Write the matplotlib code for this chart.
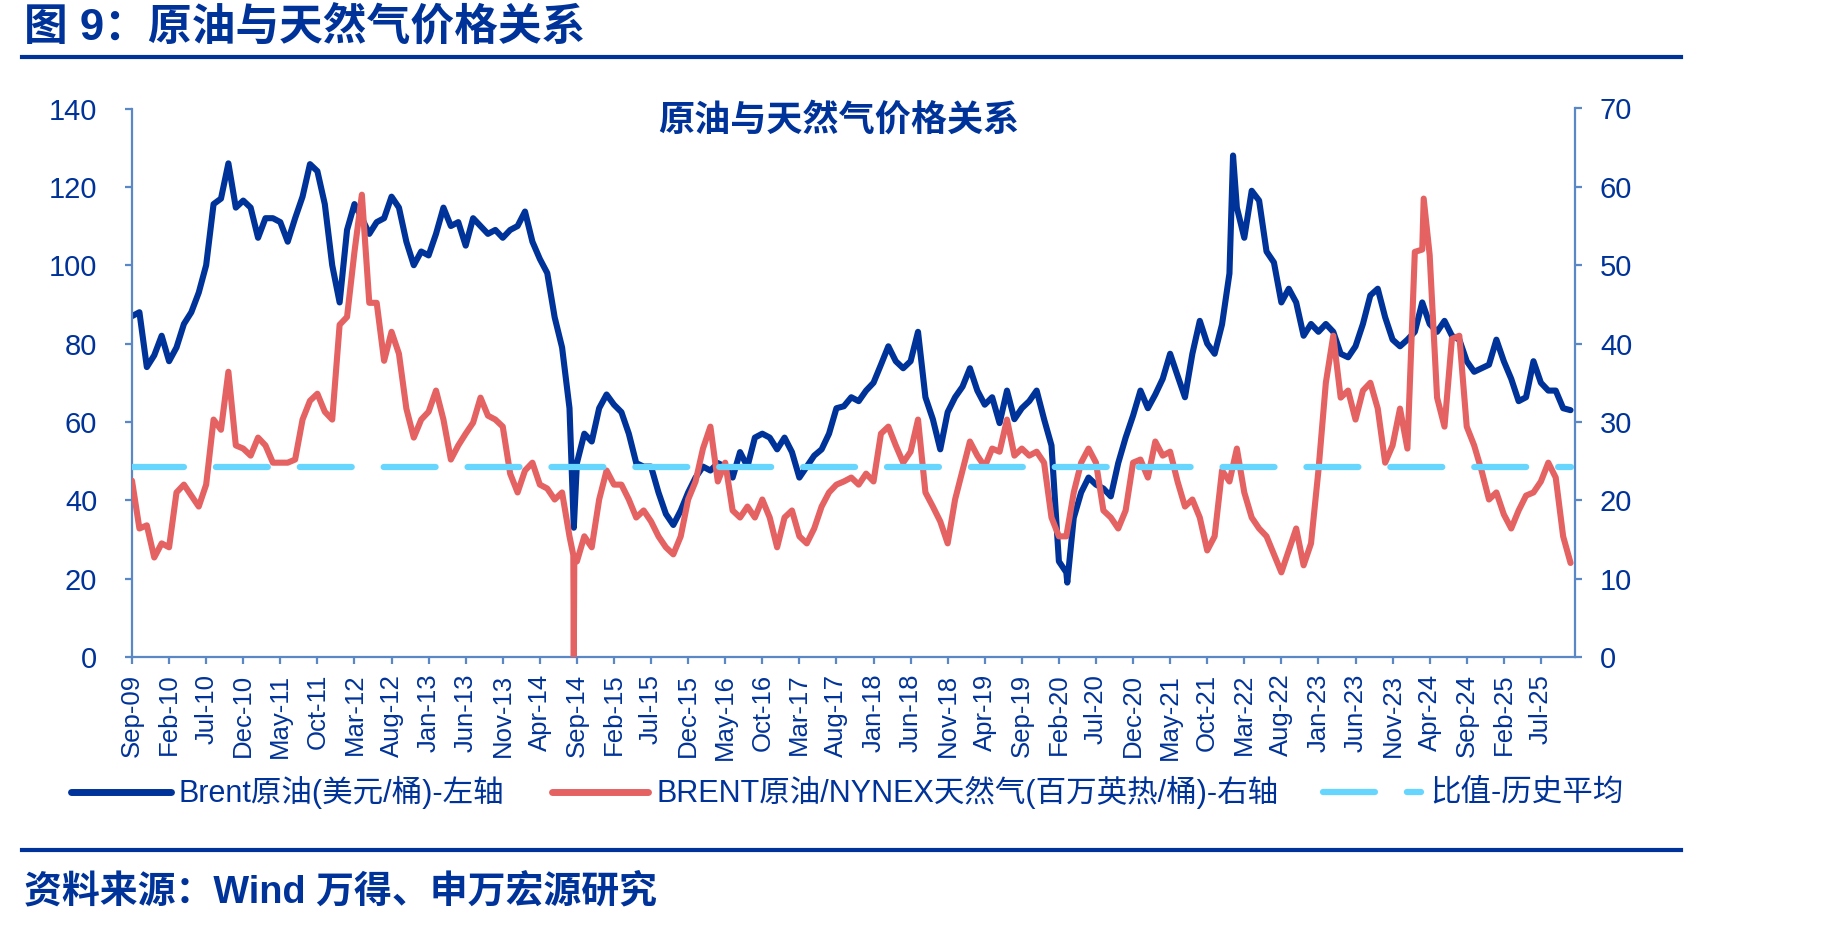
import numpy as np
import pandas as pd
import matplotlib
matplotlib.use("Agg")
import matplotlib.pyplot as plt
from matplotlib.lines import Line2D

plt.rcParams['font.family'] = ['Liberation Sans', 'Noto Sans CJK SC']
plt.rcParams['lines.scale_dashes'] = False

# ---------------- data (monthly, starting Sep 2009) ----------------
start = "2009-09"
brent = [87, 88, 74, 77, 82, 75.5, 79, 85, 88, 93,
         100, 115.6, 117, 126, 114.7, 116.5, 114.7, 107, 112, 112,
         111, 106, 112, 117.5, 125.8, 124, 115.6, 100, 90.5, 109,
         115.6, 112, 108, 111, 112, 117.5, 114.7, 106, 100, 103.5,
         102.5, 108, 114.7, 110, 111, 105, 112, 110, 108, 109,
         107, 109, 110, 113.7, 106, 101.6, 98, 86.7, 79, 63.5,
         49.5, 57, 55, 63.5, 67, 64.4, 62.5, 57, 49.5, 48.6,
         48.6, 42, 36.5, 33.7, 37.4, 42, 45.8, 48.6, 47.6, 49.5,
         48.6, 45.8, 52.3, 48.6, 56, 57, 56, 53, 56, 52.3,
         45.8, 48.6, 51.4, 53, 57, 63.5, 64, 66.3, 65.3, 68,
         70, 74.6, 79.3, 75.5, 73.7, 75.5, 83, 66.3, 60.7, 53,
         62.5, 66.3, 69, 73.7, 68, 64.4, 66.3, 59.7, 68, 60.7,
         63.5, 65.3, 68, 60.7, 54, 24.4, 21.6, 35.5, 42, 45.8,
         44, 43, 41, 49.5, 56, 61.6, 68, 63.5, 67, 71,
         77.4, 71.8, 66.3, 77.4, 85.8, 80, 77.4, 84.9, 97.9, 114.7,
         107, 119, 116.5, 103.5, 100.7, 90.5, 94, 90.5, 82, 85,
         83, 85, 83, 77.4, 76.5, 79.3, 85, 92.3, 94, 86.7,
         81, 79.3, 81, 83, 90.5, 85, 83, 85.8, 82, 81,
         75.5, 72.8, 73.7, 74.6, 81, 75.5, 71, 65.3, 66.3, 75.5,
         70, 68, 68, 63.5, 63]
ratio = [22.5, 16.4, 16.8, 12.7, 14.5, 14, 21, 22, 20.6, 19.2,
         22, 30.3, 29, 36.4, 27, 26.6, 25.7, 28, 27, 24.8,
         24.8, 24.8, 25.2, 30.3, 32.7, 33.6, 31.3, 30.3, 42.4, 43.4,
         51.7, 59, 45.2, 45.2, 37.8, 41.5, 38.7, 31.7, 28, 30.3,
         31.3, 34, 30.3, 25.2, 27, 28.5, 29.9, 33.1, 30.8, 30.3,
         29.4, 23.4, 21, 23.8, 24.8, 22, 21.5, 20.1, 21, 15.4,
         12.2, 15.4, 14, 20.1, 23.8, 22, 22, 20.1, 17.8, 18.7,
         17.3, 15.4, 14, 13.1, 15.4, 20.1, 22.4, 26.6, 29.4, 22.4,
         24.8, 18.7, 17.8, 19.2, 17.8, 20.1, 17.8, 14, 17.8, 18.7,
         15.4, 14.5, 16.4, 19.2, 21, 22, 22.4, 22.9, 22, 23.4,
         22.4, 28.5, 29.4, 27, 24.8, 26.2, 30.3, 21, 19.2, 17.3,
         14.5, 20.1, 23.8, 27.5, 25.7, 24.3, 26.6, 26.2, 30.3, 25.7,
         26.6, 25.7, 26.2, 24.8, 17.8, 15.4, 15.4, 21, 24.8, 26.6,
         24.8, 18.7, 17.8, 16.4, 18.7, 24.8, 25.2, 22.9, 27.5, 25.7,
         26.2, 22.4, 19.2, 20.1, 17.8, 13.6, 15.4, 23.8, 22.4, 26.6,
         21, 17.8, 16.4, 15.4, 13.1, 10.8, 13.6, 16.4, 11.7, 14.5,
         23.8, 35, 41, 33.1, 34, 30.3, 34, 35, 31.7, 24.8,
         27, 31.7, 26.6, 51.7, 52, 51.3, 33.1, 29.4, 40.6, 41,
         29.4, 27, 23.8, 20.1, 21, 18.2, 16.4, 18.7, 20.6, 21,
         22.4, 24.8, 22.9, 15.4, 12]
# short-lived spikes between monthly readings
brent_extra_dates = ["2014-08-19", "2020-03-05", "2022-01-16"]
brent_extra_vals = [33, 19, 128]
ratio_extra_dates = ["2014-08-17", "2014-08-19", "2014-08-21", "2024-03-07"]
ratio_extra_vals = [13, 0, 12.5, 58.5]
ratio_avg = 24.2
tick_labels = ["Sep-09", "Feb-10", "Jul-10", "Dec-10", "May-11", "Oct-11", "Mar-12",
               "Aug-12", "Jan-13", "Jun-13", "Nov-13", "Apr-14", "Sep-14", "Feb-15",
               "Jul-15", "Dec-15", "May-16", "Oct-16", "Mar-17", "Aug-17", "Jan-18",
               "Jun-18", "Nov-18", "Apr-19", "Sep-19", "Feb-20", "Jul-20", "Dec-20",
               "May-21", "Oct-21", "Mar-22", "Aug-22", "Jan-23", "Jun-23", "Nov-23",
               "Apr-24", "Sep-24", "Feb-25", "Jul-25"]

label_blue = "Brent原油(美元/桶)-左轴"
label_red = "BRENT原油/NYNEX天然气(百万英热/桶)-右轴"
label_avg = "比值-历史平均"

# ---------------- helpers ----------------
t0 = pd.Timestamp(start)


def month_pos(ts):
    ts = pd.Timestamp(ts)
    return (ts.year - t0.year) * 12 + (ts.month - t0.month) + (ts.day - 1) / ts.days_in_month


def build(vals, ex_dates, ex_vals):
    dates = pd.date_range(start, periods=len(vals), freq="MS")
    xs = np.array([month_pos(d) for d in dates] + [month_pos(d) for d in ex_dates])
    ys = np.array(list(vals) + list(ex_vals), dtype=float)
    order = np.argsort(xs, kind="stable")
    return xs[order], ys[order]


bx, by = build(brent, brent_extra_dates, brent_extra_vals)
rx, ry = build(ratio, ratio_extra_dates, ratio_extra_vals)

navy = "#003399"
blue = "#003399"
red = "#E56262"
cyan = "#66D6FF"
axc = "#5A87C6"

W, H = 1849, 926
fig = plt.figure(figsize=(W / 100, H / 100), dpi=100)
ax = fig.add_axes([132 / W, 1 - 657 / H, (1575 - 132) / W, (657 - 108.5) / H])
ax2 = ax.twinx()

ax.plot(bx, by, color=blue, lw=4.4, solid_joinstyle="round", solid_capstyle="round", zorder=2)
ax2.plot(rx, ry, color=red, lw=4.4, solid_joinstyle="round", solid_capstyle="round", zorder=2)
dash_style = dict(color=cyan, lw=4.5, dashes=(37.4, 23.0), dash_capstyle="round")
ax2.plot([rx.min(), rx.max()], [ratio_avg, ratio_avg], zorder=3, **dash_style)

ax.set_xlim(0, 194.6)
ax.set_ylim(0, 140)
ax2.set_ylim(0, 70)
ax.set_yticks(np.arange(0, 141, 20))
ax2.set_yticks(np.arange(0, 71, 10))
ax.set_xticks(np.arange(len(tick_labels)) * 5)
ax.set_xticklabels(tick_labels, rotation=90)

for a in (ax, ax2):
    a.spines["top"].set_visible(False)
    for s in ("left", "right", "bottom"):
        a.spines[s].set_color(axc)
        a.spines[s].set_linewidth(1.6)
ax.spines["right"].set_visible(False)
ax2.spines["left"].set_visible(False)
ax2.spines["bottom"].set_visible(False)

ax.tick_params(axis="y", direction="out", length=5, width=1.6, color=axc,
               labelsize=21, labelcolor=navy, pad=20)
ax.tick_params(axis="x", direction="out", length=5, width=1.6, color=axc,
               labelsize=18.5, labelcolor=navy, pad=7)
ax2.tick_params(axis="y", direction="out", length=5, width=1.6, color=axc,
                labelsize=21, labelcolor=navy, pad=13)

# ---------------- titles, rules, legend, source ----------------
fig.text(24 / W, 1 - 28 / H, "图 9：原油与天然气价格关系", fontsize=31.5, fontweight="bold",
         color=navy, ha="left", va="center")
fig.add_artist(Line2D([22 / W, 1681 / W], [1 - 57 / H] * 2, lw=3, color=navy))
fig.text(839 / W, 1 - 121 / H, "原油与天然气价格关系", fontsize=26, fontweight="bold",
         color=navy, ha="center", va="center")

ly = 1 - 792 / H
fig.add_artist(Line2D([71 / W, 171 / W], [ly, ly], lw=5, color=blue, solid_capstyle="round"))
fig.text(179 / W, ly, label_blue, fontsize=22, color=navy, ha="left", va="center")
fig.add_artist(Line2D([552 / W, 648 / W], [ly, ly], lw=5, color=red, solid_capstyle="round"))
fig.text(657 / W, ly, label_red, fontsize=22, color=navy, ha="left", va="center")
fig.add_artist(Line2D([1323 / W, 1421 / W], [ly, ly], **dash_style))
fig.text(1430 / W, ly, label_avg, fontsize=22, color=navy, ha="left", va="center")

fig.add_artist(Line2D([22 / W, 1681 / W], [1 - 850 / H] * 2, lw=3, color=navy))
fig.text(24 / W, 1 - 892 / H, "资料来源：Wind 万得、申万宏源研究", fontsize=27.3, fontweight="bold",
         color=navy, ha="left", va="center")

fig.savefig("out.png", dpi=100)
